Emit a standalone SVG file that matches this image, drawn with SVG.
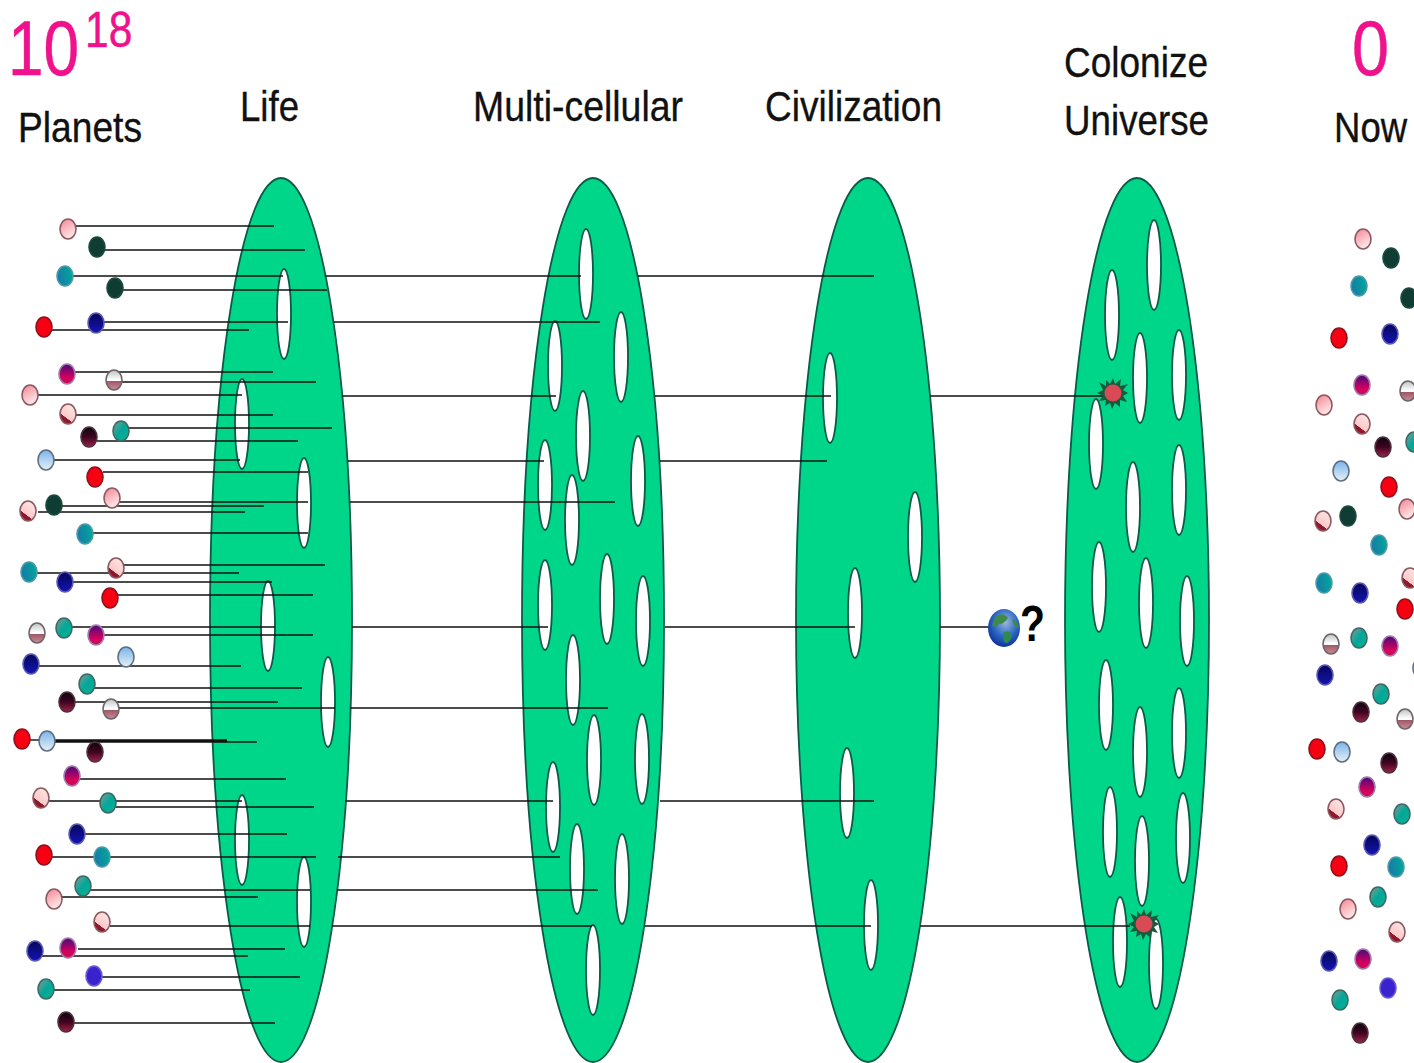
<svg xmlns="http://www.w3.org/2000/svg" width="1414" height="1063" viewBox="0 0 1414 1063">
<style>
text{font-family:"Liberation Sans",Arial,sans-serif;fill:#111}
.lab{font-size:43px;stroke:#111;stroke-width:.35}
.pk{fill:#f0128c;stroke:#f0128c;stroke-width:.5}
.big{font-size:78px}
.sup{font-size:50px}
.cell{fill:#00d68a;stroke:#0a5a48;stroke-width:1.8}
.hole{fill:#fff;stroke:#0a5a48;stroke-width:1.8}
#connectors line{stroke:#111;stroke-width:1.4}
.dot{stroke-width:1.6}
.p{fill:url(#gp);stroke:#8a5a60}
.s{fill:url(#gs);stroke:#8a5a60}
.g{fill:#0f3d33;stroke:#1d4a40}
.t{fill:url(#gt);stroke:#4a9aa8}
.r{fill:#f70012;stroke:#90101c}
.n{fill:url(#gn);stroke:#5a5ab0}
.m{fill:url(#gm);stroke:#a07ab0}
.h{fill:url(#gh);stroke:#6f6468}
.q{fill:url(#gq);stroke:#3f6a64}
.d{fill:url(#gd);stroke:#50303c}
.b{fill:url(#gb);stroke:#5d6f80}
.v{fill:#3a22cc;stroke:#6a5ad8}
</style>
<defs>
<linearGradient id="gp" x1="0.2" y1="0" x2="0.7" y2="1"><stop offset="0" stop-color="#f58a98"/><stop offset="1" stop-color="#fff0f0"/></linearGradient>
<linearGradient id="gs" x1="0.8" y1="0" x2="0.2" y2="1"><stop offset="0" stop-color="#fde8e6"/><stop offset="0.68" stop-color="#fcc8c8"/><stop offset="0.7" stop-color="#90182c"/><stop offset="1" stop-color="#90182c"/></linearGradient>
<linearGradient id="gt" x1="1" y1="0.4" x2="0" y2="0.6"><stop offset="0" stop-color="#00a89a"/><stop offset="1" stop-color="#1878a8"/></linearGradient>
<linearGradient id="gn" x1="0" y1="0" x2="0" y2="1"><stop offset="0" stop-color="#06065a"/><stop offset="1" stop-color="#1414b4"/></linearGradient>
<linearGradient id="gm" x1="0" y1="0" x2="0" y2="1"><stop offset="0" stop-color="#480a78"/><stop offset="0.7" stop-color="#d8005c"/><stop offset="1" stop-color="#c0104c"/></linearGradient>
<linearGradient id="gh" x1="0" y1="0" x2="0" y2="1"><stop offset="0" stop-color="#b8c4c0"/><stop offset="0.48" stop-color="#fff"/><stop offset="0.55" stop-color="#fff"/><stop offset="0.57" stop-color="#a05868"/><stop offset="1" stop-color="#c89098"/></linearGradient>
<linearGradient id="gq" x1="0" y1="0" x2="1" y2="1"><stop offset="0" stop-color="#8a9a98"/><stop offset="0.5" stop-color="#00a898"/><stop offset="1" stop-color="#10b094"/></linearGradient>
<linearGradient id="gd" x1="0" y1="0" x2="0" y2="1"><stop offset="0" stop-color="#0a0410"/><stop offset="0.5" stop-color="#400420"/><stop offset="1" stop-color="#a02448"/></linearGradient>
<linearGradient id="gb" x1="0" y1="0" x2="0" y2="1"><stop offset="0" stop-color="#7ab4ec"/><stop offset="1" stop-color="#e8f0f4"/></linearGradient>
<radialGradient id="ge" cx="0.55" cy="0.35" r="0.7"><stop offset="0" stop-color="#9ab8d8"/><stop offset="0.55" stop-color="#2a66c4"/><stop offset="1" stop-color="#0a2a90"/></radialGradient>
</defs>
<rect width="1414" height="1063" fill="#fff"/>

<g id="title-left">
<text class="pk big" transform="translate(8 75) scale(0.82 1)">10</text>
<text class="pk sup" transform="translate(85 47) scale(0.85 1)">18</text>
<text class="lab" x="18" y="142" textLength="124" lengthAdjust="spacingAndGlyphs">Planets</text>
</g>
<g id="title-life"><text class="lab" x="240" y="121" textLength="59" lengthAdjust="spacingAndGlyphs">Life</text></g>
<g id="title-multi"><text class="lab" x="473" y="121" textLength="210" lengthAdjust="spacingAndGlyphs">Multi-cellular</text></g>
<g id="title-civ"><text class="lab" x="765" y="121" textLength="177" lengthAdjust="spacingAndGlyphs">Civilization</text></g>
<g id="title-col">
<text class="lab" x="1064" y="77" textLength="144" lengthAdjust="spacingAndGlyphs">Colonize</text>
<text class="lab" x="1064" y="135" textLength="145" lengthAdjust="spacingAndGlyphs">Universe</text>
</g>
<g id="title-right">
<text class="pk big" x="1352" y="75" textLength="37" lengthAdjust="spacingAndGlyphs">0</text>
<text class="lab" transform="translate(1334 142) scale(0.85 1)">Now</text>
</g>

<g id="filter-life">
<ellipse class="cell" cx="281" cy="620" rx="71" ry="442"/>
<ellipse class="hole" cx="284" cy="314" rx="7" ry="45"/>
<ellipse class="hole" cx="242" cy="424" rx="7" ry="45"/>
<ellipse class="hole" cx="304" cy="503" rx="7" ry="45"/>
<ellipse class="hole" cx="268" cy="626" rx="7" ry="45"/>
<ellipse class="hole" cx="328" cy="702" rx="7" ry="45"/>
<ellipse class="hole" cx="242" cy="840" rx="7" ry="45"/>
<ellipse class="hole" cx="304" cy="902" rx="7" ry="45"/>
</g>
<g id="filter-multi">
<ellipse class="cell" cx="593" cy="620" rx="71" ry="442"/>
<ellipse class="hole" cx="586" cy="274" rx="7" ry="45"/>
<ellipse class="hole" cx="555" cy="366" rx="7" ry="45"/>
<ellipse class="hole" cx="621" cy="357" rx="7" ry="45"/>
<ellipse class="hole" cx="583" cy="436" rx="7" ry="45"/>
<ellipse class="hole" cx="545" cy="485" rx="7" ry="45"/>
<ellipse class="hole" cx="638" cy="481" rx="7" ry="45"/>
<ellipse class="hole" cx="572" cy="520" rx="7" ry="45"/>
<ellipse class="hole" cx="545" cy="605" rx="7" ry="45"/>
<ellipse class="hole" cx="607" cy="599" rx="7" ry="45"/>
<ellipse class="hole" cx="643" cy="621" rx="7" ry="45"/>
<ellipse class="hole" cx="573" cy="680" rx="7" ry="45"/>
<ellipse class="hole" cx="594" cy="760" rx="7" ry="45"/>
<ellipse class="hole" cx="642" cy="759" rx="7" ry="45"/>
<ellipse class="hole" cx="553" cy="807" rx="7" ry="45"/>
<ellipse class="hole" cx="577" cy="869" rx="7" ry="45"/>
<ellipse class="hole" cx="622" cy="879" rx="7" ry="45"/>
<ellipse class="hole" cx="593" cy="970" rx="7" ry="45"/>
</g>
<g id="filter-civ">
<ellipse class="cell" cx="868" cy="620" rx="72" ry="442"/>
<ellipse class="hole" cx="830" cy="398" rx="7" ry="45"/>
<ellipse class="hole" cx="915" cy="537" rx="7" ry="45"/>
<ellipse class="hole" cx="855" cy="613" rx="7" ry="45"/>
<ellipse class="hole" cx="847" cy="793" rx="7" ry="45"/>
<ellipse class="hole" cx="871" cy="925" rx="7" ry="45"/>
</g>
<g id="filter-colonize">
<ellipse class="cell" cx="1137" cy="620" rx="72" ry="442"/>
<ellipse class="hole" cx="1154" cy="265" rx="7" ry="45"/>
<ellipse class="hole" cx="1112" cy="315" rx="7" ry="45"/>
<ellipse class="hole" cx="1140" cy="378" rx="7" ry="45"/>
<ellipse class="hole" cx="1179" cy="375" rx="7" ry="45"/>
<ellipse class="hole" cx="1096" cy="444" rx="7" ry="45"/>
<ellipse class="hole" cx="1133" cy="507" rx="7" ry="45"/>
<ellipse class="hole" cx="1179" cy="490" rx="7" ry="45"/>
<ellipse class="hole" cx="1099" cy="587" rx="7" ry="45"/>
<ellipse class="hole" cx="1146" cy="603" rx="7" ry="45"/>
<ellipse class="hole" cx="1187" cy="621" rx="7" ry="45"/>
<ellipse class="hole" cx="1106" cy="705" rx="7" ry="45"/>
<ellipse class="hole" cx="1140" cy="752" rx="7" ry="45"/>
<ellipse class="hole" cx="1179" cy="733" rx="7" ry="45"/>
<ellipse class="hole" cx="1110" cy="832" rx="7" ry="45"/>
<ellipse class="hole" cx="1142" cy="861" rx="7" ry="45"/>
<ellipse class="hole" cx="1183" cy="838" rx="7" ry="45"/>
<ellipse class="hole" cx="1120" cy="942" rx="7" ry="45"/>
<ellipse class="hole" cx="1156" cy="964" rx="7" ry="45"/>
</g>

<g id="connectors">
<line x1="76" y1="226" x2="274" y2="226"/>
<line x1="104" y1="250" x2="305" y2="250"/>
<line x1="72" y1="276" x2="283" y2="276"/>
<line x1="325" y1="276" x2="581" y2="276"/>
<line x1="638" y1="276" x2="874" y2="276"/>
<line x1="122" y1="290" x2="327" y2="290"/>
<line x1="103" y1="322" x2="288" y2="322"/>
<line x1="334" y1="322" x2="600" y2="322"/>
<line x1="52" y1="330" x2="249" y2="330"/>
<line x1="75" y1="372" x2="273" y2="372"/>
<line x1="122" y1="382" x2="316" y2="382"/>
<line x1="38" y1="395" x2="242" y2="395"/>
<line x1="342" y1="396" x2="556" y2="396"/>
<line x1="655" y1="396" x2="831" y2="396"/>
<line x1="930" y1="396" x2="1105" y2="396"/>
<line x1="76" y1="415" x2="273" y2="415"/>
<line x1="128" y1="428" x2="332" y2="428"/>
<line x1="97" y1="441" x2="298" y2="441"/>
<line x1="54" y1="460" x2="240" y2="460"/>
<line x1="348" y1="461" x2="544" y2="461"/>
<line x1="660" y1="461" x2="827" y2="461"/>
<line x1="103" y1="472" x2="308" y2="472"/>
<line x1="120" y1="502" x2="308" y2="502"/>
<line x1="350" y1="502" x2="615" y2="502"/>
<line x1="60" y1="506" x2="264" y2="506"/>
<line x1="38" y1="512" x2="245" y2="512"/>
<line x1="92" y1="533" x2="308" y2="533"/>
<line x1="124" y1="565" x2="325" y2="565"/>
<line x1="36" y1="573" x2="239" y2="573"/>
<line x1="72" y1="582" x2="272" y2="582"/>
<line x1="118" y1="595" x2="313" y2="595"/>
<line x1="72" y1="627" x2="275" y2="627"/>
<line x1="352" y1="627" x2="548" y2="627"/>
<line x1="665" y1="627" x2="855" y2="627"/>
<line x1="940" y1="627" x2="990" y2="627"/>
<line x1="104" y1="635" x2="313" y2="635"/>
<line x1="38" y1="666" x2="241" y2="666"/>
<line x1="93" y1="688" x2="302" y2="688"/>
<line x1="75" y1="702" x2="278" y2="702"/>
<line x1="118" y1="708" x2="335" y2="708"/>
<line x1="350" y1="708" x2="608" y2="708"/>
<line x1="30" y1="740" x2="40" y2="740"/>
<line x1="55" y1="741" x2="227" y2="741" style="stroke-width:3.5"/>
<line x1="227" y1="742" x2="257" y2="742"/>
<line x1="80" y1="779" x2="286" y2="779"/>
<line x1="48" y1="801" x2="242" y2="801"/>
<line x1="345" y1="801" x2="553" y2="801"/>
<line x1="660" y1="801" x2="874" y2="801"/>
<line x1="115" y1="807" x2="314" y2="807"/>
<line x1="85" y1="834" x2="287" y2="834"/>
<line x1="52" y1="857" x2="316" y2="857"/>
<line x1="338" y1="857" x2="560" y2="857"/>
<line x1="90" y1="890" x2="310" y2="890"/>
<line x1="337" y1="890" x2="598" y2="890"/>
<line x1="60" y1="897" x2="258" y2="897"/>
<line x1="110" y1="926" x2="310" y2="926"/>
<line x1="332" y1="926" x2="592" y2="926"/>
<line x1="645" y1="926" x2="871" y2="926"/>
<line x1="920" y1="926" x2="1130" y2="926"/>
<line x1="78" y1="949" x2="285" y2="949"/>
<line x1="42" y1="956" x2="248" y2="956"/>
<line x1="100" y1="977" x2="300" y2="977"/>
<line x1="52" y1="990" x2="250" y2="990"/>
<line x1="74" y1="1023" x2="275" y2="1023"/>
</g>

<g id="star-1" transform="translate(1113 393)">
<polygon points="0,-15 2,-9 8,-14 7,-7 15,-9 10,-3 15,0 10,3 14,9 7,7 7,14 2,10 -1,16 -3,10 -8,13 -7,7 -14,8 -10,3 -16,0 -10,-3 -14,-11 -7,-7 -7,-13 -3,-9" fill="#1a5a3c"/>
<circle r="8.5" fill="#d84a55"/>
</g>
<g id="star-2" transform="translate(1144 924)">
<polygon points="0,-15 2,-9 8,-14 7,-7 15,-9 10,-3 15,0 10,3 14,9 7,7 7,14 2,10 -1,16 -3,10 -8,13 -7,7 -14,8 -10,3 -16,0 -10,-3 -14,-11 -7,-7 -7,-13 -3,-9" fill="#1a5a3c"/>
<circle r="8.5" fill="#d84a55"/>
</g>
<g id="earth">
<ellipse cx="1004" cy="628" rx="16" ry="19" fill="url(#ge)"/>
<path d="M995 617 Q1002 611 1008 618 Q1004 624 999 624 Q996 628 992 626 Z" fill="#3f8a4a"/>
<path d="M1004 632 Q1011 630 1012 636 Q1009 644 1005 643 Q1002 638 1004 632 Z" fill="#2f8a50"/>
<path d="M1012 619 Q1018 621 1019 628 Q1014 628 1012 619 Z" fill="#3f8a4a"/>
<text x="1020" y="641" style="font-size:50px;font-weight:bold;fill:#000" textLength="25" lengthAdjust="spacingAndGlyphs">?</text>
</g>

<g id="planets-left">
<ellipse class="dot p" cx="68" cy="229" rx="8" ry="10"/>
<ellipse class="dot g" cx="97" cy="247" rx="8" ry="10"/>
<ellipse class="dot t" cx="65" cy="276" rx="8" ry="10"/>
<ellipse class="dot g" cx="115" cy="288" rx="8" ry="10"/>
<ellipse class="dot r" cx="44" cy="327" rx="8" ry="10"/>
<ellipse class="dot n" cx="96" cy="323" rx="8" ry="10"/>
<ellipse class="dot m" cx="67" cy="374" rx="8" ry="10"/>
<ellipse class="dot h" cx="114" cy="380" rx="8" ry="10"/>
<ellipse class="dot p" cx="30" cy="395" rx="8" ry="10"/>
<ellipse class="dot s" cx="68" cy="414" rx="8" ry="10"/>
<ellipse class="dot q" cx="121" cy="431" rx="8" ry="10"/>
<ellipse class="dot d" cx="89" cy="437" rx="8" ry="10"/>
<ellipse class="dot b" cx="46" cy="460" rx="8" ry="10"/>
<ellipse class="dot r" cx="95" cy="477" rx="8" ry="10"/>
<ellipse class="dot p" cx="112" cy="498" rx="8" ry="10"/>
<ellipse class="dot g" cx="54" cy="505" rx="8" ry="10"/>
<ellipse class="dot s" cx="28" cy="511" rx="8" ry="10"/>
<ellipse class="dot t" cx="85" cy="534" rx="8" ry="10"/>
<ellipse class="dot s" cx="116" cy="568" rx="8" ry="10"/>
<ellipse class="dot t" cx="29" cy="572" rx="8" ry="10"/>
<ellipse class="dot n" cx="65" cy="582" rx="8" ry="10"/>
<ellipse class="dot r" cx="110" cy="598" rx="8" ry="10"/>
<ellipse class="dot h" cx="37" cy="633" rx="8" ry="10"/>
<ellipse class="dot q" cx="64" cy="628" rx="8" ry="10"/>
<ellipse class="dot m" cx="96" cy="635" rx="8" ry="10"/>
<ellipse class="dot n" cx="31" cy="664" rx="8" ry="10"/>
<ellipse class="dot b" cx="126" cy="657" rx="8" ry="10"/>
<ellipse class="dot q" cx="87" cy="684" rx="8" ry="10"/>
<ellipse class="dot d" cx="67" cy="702" rx="8" ry="10"/>
<ellipse class="dot h" cx="111" cy="709" rx="8" ry="10"/>
<ellipse class="dot r" cx="22" cy="739" rx="8" ry="10"/>
<ellipse class="dot b" cx="47" cy="741" rx="8" ry="10"/>
<ellipse class="dot d" cx="95" cy="752" rx="8" ry="10"/>
<ellipse class="dot m" cx="72" cy="776" rx="8" ry="10"/>
<ellipse class="dot s" cx="41" cy="798" rx="8" ry="10"/>
<ellipse class="dot q" cx="108" cy="803" rx="8" ry="10"/>
<ellipse class="dot n" cx="77" cy="834" rx="8" ry="10"/>
<ellipse class="dot r" cx="44" cy="855" rx="8" ry="10"/>
<ellipse class="dot t" cx="102" cy="857" rx="8" ry="10"/>
<ellipse class="dot q" cx="83" cy="886" rx="8" ry="10"/>
<ellipse class="dot p" cx="54" cy="899" rx="8" ry="10"/>
<ellipse class="dot s" cx="102" cy="922" rx="8" ry="10"/>
<ellipse class="dot n" cx="35" cy="951" rx="8" ry="10"/>
<ellipse class="dot m" cx="68" cy="948" rx="8" ry="10"/>
<ellipse class="dot v" cx="94" cy="976" rx="8" ry="10"/>
<ellipse class="dot q" cx="46" cy="989" rx="8" ry="10"/>
<ellipse class="dot d" cx="66" cy="1022" rx="8" ry="10"/>
</g>

<g id="planets-right">
<ellipse class="dot p" cx="1363" cy="239" rx="8" ry="10"/>
<ellipse class="dot g" cx="1391" cy="258" rx="8" ry="10"/>
<ellipse class="dot t" cx="1359" cy="286" rx="8" ry="10"/>
<ellipse class="dot g" cx="1409" cy="298" rx="8" ry="10"/>
<ellipse class="dot r" cx="1339" cy="338" rx="8" ry="10"/>
<ellipse class="dot n" cx="1390" cy="334" rx="8" ry="10"/>
<ellipse class="dot m" cx="1362" cy="385" rx="8" ry="10"/>
<ellipse class="dot h" cx="1408" cy="391" rx="8" ry="10"/>
<ellipse class="dot p" cx="1324" cy="405" rx="8" ry="10"/>
<ellipse class="dot s" cx="1362" cy="424" rx="8" ry="10"/>
<ellipse class="dot q" cx="1414" cy="442" rx="8" ry="10"/>
<ellipse class="dot d" cx="1383" cy="447" rx="8" ry="10"/>
<ellipse class="dot b" cx="1341" cy="471" rx="8" ry="10"/>
<ellipse class="dot r" cx="1389" cy="487" rx="8" ry="10"/>
<ellipse class="dot p" cx="1407" cy="509" rx="8" ry="10"/>
<ellipse class="dot g" cx="1348" cy="516" rx="8" ry="10"/>
<ellipse class="dot s" cx="1323" cy="521" rx="8" ry="10"/>
<ellipse class="dot t" cx="1379" cy="545" rx="8" ry="10"/>
<ellipse class="dot s" cx="1410" cy="578" rx="8" ry="10"/>
<ellipse class="dot t" cx="1324" cy="583" rx="8" ry="10"/>
<ellipse class="dot n" cx="1360" cy="593" rx="8" ry="10"/>
<ellipse class="dot r" cx="1405" cy="609" rx="8" ry="10"/>
<ellipse class="dot h" cx="1331" cy="644" rx="8" ry="10"/>
<ellipse class="dot q" cx="1359" cy="638" rx="8" ry="10"/>
<ellipse class="dot m" cx="1390" cy="646" rx="8" ry="10"/>
<ellipse class="dot n" cx="1325" cy="675" rx="8" ry="10"/>
<ellipse class="dot b" cx="1421" cy="668" rx="8" ry="10"/>
<ellipse class="dot q" cx="1381" cy="694" rx="8" ry="10"/>
<ellipse class="dot d" cx="1361" cy="712" rx="8" ry="10"/>
<ellipse class="dot h" cx="1405" cy="719" rx="8" ry="10"/>
<ellipse class="dot r" cx="1317" cy="749" rx="8" ry="10"/>
<ellipse class="dot b" cx="1342" cy="752" rx="8" ry="10"/>
<ellipse class="dot d" cx="1389" cy="763" rx="8" ry="10"/>
<ellipse class="dot m" cx="1367" cy="787" rx="8" ry="10"/>
<ellipse class="dot s" cx="1336" cy="809" rx="8" ry="10"/>
<ellipse class="dot q" cx="1402" cy="814" rx="8" ry="10"/>
<ellipse class="dot n" cx="1372" cy="845" rx="8" ry="10"/>
<ellipse class="dot r" cx="1339" cy="866" rx="8" ry="10"/>
<ellipse class="dot t" cx="1396" cy="867" rx="8" ry="10"/>
<ellipse class="dot q" cx="1378" cy="897" rx="8" ry="10"/>
<ellipse class="dot p" cx="1348" cy="909" rx="8" ry="10"/>
<ellipse class="dot s" cx="1397" cy="932" rx="8" ry="10"/>
<ellipse class="dot n" cx="1329" cy="961" rx="8" ry="10"/>
<ellipse class="dot m" cx="1363" cy="959" rx="8" ry="10"/>
<ellipse class="dot v" cx="1388" cy="988" rx="8" ry="10"/>
<ellipse class="dot q" cx="1340" cy="1000" rx="8" ry="10"/>
<ellipse class="dot d" cx="1360" cy="1033" rx="8" ry="10"/>
</g>
</svg>
